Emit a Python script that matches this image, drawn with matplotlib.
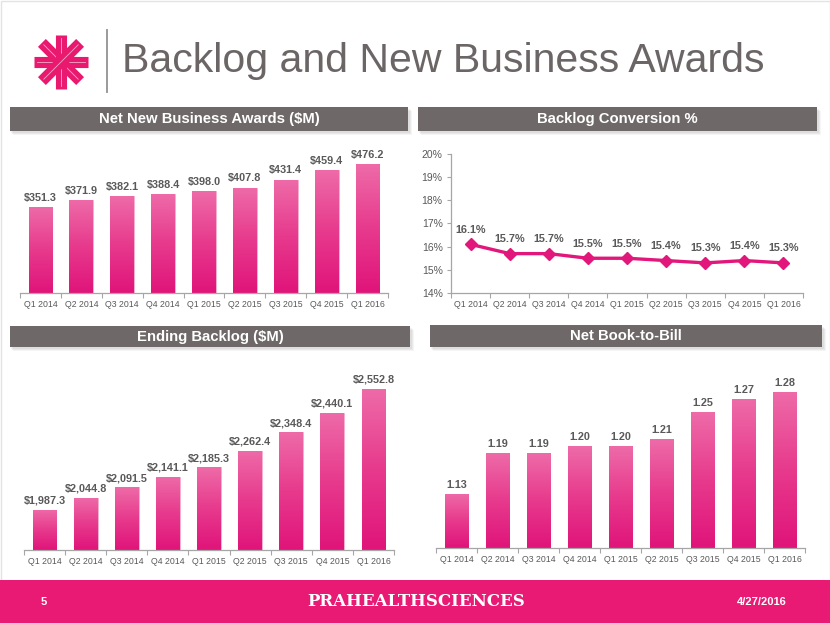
import numpy as np
import matplotlib
matplotlib.use("Agg")
import matplotlib.pyplot as plt
from matplotlib.patches import Rectangle
from matplotlib.lines import Line2D
from matplotlib.ticker import FixedLocator

plt.rcParams['font.family'] = ['Liberation Sans', 'DejaVu Sans']

# ---------------- data ----------------
quarters = ["Q1 2014", "Q2 2014", "Q3 2014", "Q4 2014", "Q1 2015",
            "Q2 2015", "Q3 2015", "Q4 2015", "Q1 2016"]
awards = [351.3, 371.9, 382.1, 388.4, 398.0, 407.8, 431.4, 459.4, 476.2]
conversion = [16.1, 15.7, 15.7, 15.5, 15.5, 15.4, 15.3, 15.4, 15.3]
backlog = [1987.3, 2044.8, 2091.5, 2141.1, 2185.3, 2262.4, 2348.4, 2440.1, 2552.8]
book_to_bill = [1.13, 1.19, 1.19, 1.20, 1.20, 1.21, 1.25, 1.27, 1.28]
conv_ticks = [14, 15, 16, 17, 18, 19, 20]

title = "Backlog and New Business Awards"
headers = ["Net New Business Awards ($M)", "Backlog Conversion %",
           "Ending Backlog ($M)", "Net Book-to-Bill"]

# ---------------- style ----------------
W, H = 830, 623
PINK = "#E4197A"
PINK_TOP = "#EE6BA8"
PINK_BOT = "#E0147A"
GRAY_HDR = "#6F6868"
TXT = "#595959"
AX = "#A6A6A6"

fig = plt.figure(figsize=(W / 100, H / 100), dpi=100)
fig.patch.set_facecolor("white")


def fx(x):
    return x / W


def fy(y):
    return 1 - y / H


def rect_px(x0, y0, x1, y1, **kw):
    r = Rectangle((fx(x0), fy(y1)), fx(x1 - x0), (y1 - y0) / H,
                  transform=fig.transFigure, **kw)
    fig.patches.append(r)
    return r


# slide border
rect_px(0.5, 0.5, W - 0.5, H - 0.5, facecolor="none", edgecolor="#E3E3E3", lw=1)

# logo (decorative asterisk)
cx, cy = 61, 62
L = 27
for ang in [0, 45, 90, 135]:
    a = np.deg2rad(ang)
    dx, dy = L * np.cos(a), L * np.sin(a)
    fig.add_artist(Line2D([fx(cx - dx), fx(cx + dx)], [fy(cy - dy), fy(cy + dy)],
                          transform=fig.transFigure, color="#E8196F", lw=8,
                          solid_capstyle="butt"))
    fig.add_artist(Line2D([fx(cx - dx * 0.9), fx(cx + dx * 0.9)],
                          [fy(cy - dy * 0.9), fy(cy + dy * 0.9)],
                          transform=fig.transFigure, color="#F7A9C8", lw=0.6))
fig.add_artist(Line2D([fx(107), fx(107)], [fy(30), fy(92)], transform=fig.transFigure,
                      color="#9B9B9B", lw=1.4))
fig.text(fx(122), fy(61), title, fontsize=29.5, color="#6B6565",
         ha="left", va="center")

# headers
hdr_boxes = [(10, 107, 408, 131), (418, 107, 817, 131),
             (10, 326, 410, 347), (430, 325, 822, 347)]
for (x0, y0, x1, y1), txt in zip(hdr_boxes, headers):
    for k, al in enumerate([0.10, 0.10, 0.08]):
        rect_px(x0 + 1 + k, y0 + 2 + k, x1 + 2 + k, y1 + 2 + k,
                facecolor="#808080", edgecolor="none", alpha=al)
    rect_px(x0, y0, x1, y1, facecolor=GRAY_HDR, edgecolor="none")
    fig.text(fx((x0 + x1) / 2), fy((y0 + y1) / 2 + 0.5), txt, fontsize=10.7,
             color="white", fontweight="bold", ha="center", va="center")

# footer
rect_px(0, 580, W, H, facecolor="#E81A73", edgecolor="none")
fig.text(fx(44), fy(602), "5", color="white", fontsize=8, fontweight="bold",
         ha="center", va="center")
fig.text(fx(787), fy(602), "4/27/2016", color="white", fontsize=8,
         fontweight="bold", ha="right", va="center")
fig.text(fx(416), fy(602), "PRAHEALTHSCIENCES", color="white", fontsize=12,
         family="DejaVu Serif", fontweight="bold", ha="center", va="center")

grad = np.linspace(0, 1, 256).reshape(-1, 1)
from matplotlib.colors import LinearSegmentedColormap
cmap = LinearSegmentedColormap.from_list("pk", [PINK_BOT, "#E73A8D", PINK_TOP])


def style_cat_axis(ax):
    x = np.arange(len(quarters))
    ax.set_xlim(-0.5, len(quarters) - 0.5)
    ax.set_xticks(x)
    ax.set_xticklabels(quarters, fontsize=6.3, color=TXT)
    ax.xaxis.set_minor_locator(FixedLocator(np.arange(-0.5, len(quarters), 1.0)))
    ax.tick_params(axis="x", which="major", length=0, pad=5)
    ax.tick_params(axis="x", which="minor", length=3.5, color=AX, width=0.8)
    ax.spines["bottom"].set_color(AX)
    ax.spines["bottom"].set_linewidth(0.9)
    for s in ["top", "right"]:
        ax.spines[s].set_visible(False)
    ax.set_facecolor("none")


def bar_panel(rect_pxs, values, ylim, fmt):
    x0, y0, x1, y1 = rect_pxs
    ax = fig.add_axes([fx(x0), fy(y1), fx(x1 - x0), (y1 - y0) / H])
    x = np.arange(len(values))
    bars = ax.bar(x, values, width=0.58, color=PINK, edgecolor="#F6B6D3",
                  linewidth=0.6)
    ax.set_ylim(*ylim)
    for b in bars:
        bx, bw, top = b.get_x(), b.get_width(), b.get_height()
        im = ax.imshow(grad, extent=(bx, bx + bw, ylim[0], top), origin="lower",
                       aspect="auto", cmap=cmap, zorder=b.get_zorder() + 0.1)
        im.set_clip_path(b)
    for xi, v in zip(x, values):
        ax.annotate(fmt(v), (xi, v), xytext=(0, 3), textcoords="offset points",
                    ha="center", va="bottom", fontsize=7.8, fontweight="bold",
                    color=TXT)
    style_cat_axis(ax)
    ax.set_ylim(*ylim)
    ax.spines["left"].set_visible(False)
    ax.set_yticks([])
    return ax


bar_panel((20, 139, 388, 293), awards, (100, 550), lambda v: f"${v:,.1f}")
bar_panel((24, 357, 394, 550), backlog, (1800, 2700), lambda v: f"${v:,.1f}")
bar_panel((436, 358, 805, 548), book_to_bill, (1.05, 1.33), lambda v: f"{v:.2f}")

# line panel
ax = fig.add_axes([fx(451), fy(293), fx(803 - 451), (293 - 154) / H])
x = np.arange(len(conversion))
ax.plot(x, conversion, color="#E2177B", lw=2.4, marker="D", markersize=6,
        zorder=3)
for xi, v in zip(x, conversion):
    ax.annotate(f"{v:.1f}%", (xi, v), xytext=(0, 7), textcoords="offset points",
                ha="center", va="bottom", fontsize=7.8, fontweight="bold", color=TXT)
style_cat_axis(ax)
ax.set_ylim(conv_ticks[0], conv_ticks[-1])
ax.set_yticks(conv_ticks)
ax.set_yticklabels([f"{t}%" for t in conv_ticks], fontsize=7.5, color=TXT)
ax.tick_params(axis="y", length=3, color=AX, width=0.8, pad=3)
ax.spines["left"].set_color(AX)
ax.spines["left"].set_linewidth(0.9)

fig.savefig("out.png", dpi=100)
